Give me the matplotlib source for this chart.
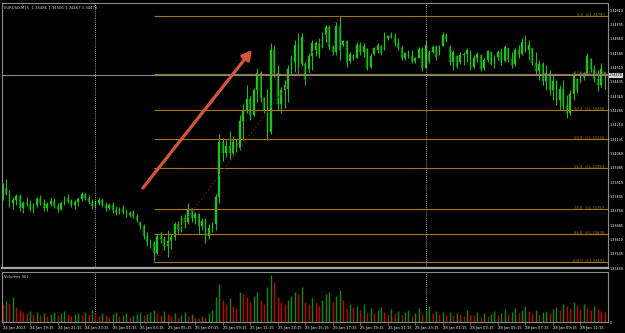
"""EURUSD M15 chart with fibonacci retracement and volumes"""
import matplotlib

matplotlib.use("Agg")
import matplotlib.pyplot as plt
import numpy as np

# Bars as points above 1.33000 (1 point = 0.00001)
opens = [842, 880, 850, 800, 815, 835, 775, 800, 795, 770, 790, 820, 800, 775, 795, 810, 785, 770, 800, 825,
         810, 790, 805, 820, 845, 825, 805, 785, 800, 815, 790, 775, 790, 765, 750, 770, 755, 735, 750, 730,
         700, 680, 630, 595, 590, 540, 625, 610, 575, 600, 620, 690, 660, 720, 700, 770, 720, 745, 680, 705,
         630, 670, 690, 830, 1120, 1060, 1100, 1060, 1120, 1090, 1230, 1280, 1345, 1260, 1390, 1480, 1350, 1290,
         1170, 1600, 1480, 1320, 1390, 1400, 1500, 1540, 1630, 1530, 1530, 1500, 1570, 1600, 1640, 1620, 1680,
         1720, 1620, 1590, 1730, 1630, 1650, 1545, 1575, 1560, 1630, 1590, 1605, 1515, 1580, 1600, 1625, 1600,
         1665, 1675, 1670, 1640, 1610, 1560, 1585, 1570, 1545, 1560, 1605, 1510, 1590, 1590, 1620, 1580, 1625,
         1680, 1620, 1540, 1570, 1540, 1575, 1580, 1595, 1515, 1560, 1575, 1505, 1550, 1590, 1530, 1565, 1590,
         1545, 1610, 1555, 1530, 1600, 1580, 1645, 1600, 1610, 1535, 1490, 1530, 1440, 1480, 1390, 1440, 1340,
         1400, 1310, 1270, 1370, 1450, 1440, 1480, 1475, 1555, 1500, 1450, 1420, 1486]
highs = [905, 925, 870, 830, 850, 845, 810, 830, 815, 800, 830, 840, 820, 805, 830, 825, 800, 810, 835, 845,
         820, 815, 830, 860, 855, 840, 820, 815, 830, 825, 805, 800, 805, 785, 780, 790, 770, 760, 765, 745,
         705, 690, 650, 610, 600, 640, 650, 630, 660, 640, 700, 705, 740, 745, 800, 775, 755, 750, 720, 720,
         690, 700, 850, 1160, 1140, 1130, 1180, 1150, 1135, 1260, 1320, 1420, 1360, 1405, 1510, 1490, 1355, 1400,
         1640, 1630, 1525, 1410, 1445, 1525, 1575, 1655, 1690, 1690, 1540, 1585, 1655, 1650, 1665, 1695, 1735,
         1735, 1630, 1750, 1780, 1655, 1655, 1590, 1580, 1645, 1645, 1640, 1612, 1585, 1618, 1640, 1628, 1695,
         1680, 1695, 1690, 1665, 1628, 1590, 1600, 1600, 1565, 1618, 1618, 1655, 1600, 1628, 1628, 1628, 1695,
         1690, 1628, 1602, 1576, 1590, 1590, 1612, 1602, 1576, 1590, 1576, 1560, 1602, 1590, 1576, 1602, 1612,
         1628, 1612, 1590, 1612, 1628, 1665, 1681, 1655, 1612, 1590, 1550, 1540, 1523, 1497, 1471, 1445, 1419,
         1445, 1366, 1392, 1487, 1455, 1487, 1487, 1586, 1560, 1523, 1497, 1534, 1487]
lows = [816, 840, 780, 770, 790, 760, 750, 785, 760, 750, 780, 790, 760, 760, 785, 775, 755, 765, 790, 800,
        780, 770, 785, 810, 815, 795, 770, 775, 790, 780, 760, 765, 750, 740, 745, 745, 725, 725, 720, 700,
        665, 610, 575, 565, 491, 535, 590, 555, 515, 560, 605, 640, 650, 670, 690, 700, 690, 640, 660, 590,
        610, 650, 660, 800, 1020, 1040, 1030, 1050, 1070, 1080, 1130, 1270, 1235, 1255, 1330, 1330, 1270, 1130,
        1160, 1460, 1290, 1270, 1300, 1330, 1470, 1485, 1480, 1520, 1420, 1485, 1495, 1570, 1560, 1610, 1645,
        1600, 1575, 1575, 1550, 1625, 1515, 1535, 1550, 1560, 1575, 1565, 1497, 1505, 1575, 1585, 1575, 1600,
        1655, 1665, 1625, 1600, 1550, 1550, 1560, 1535, 1535, 1560, 1490, 1505, 1535, 1585, 1550, 1575, 1625,
        1645, 1523, 1497, 1510, 1530, 1523, 1540, 1497, 1510, 1540, 1490, 1497, 1540, 1523, 1510, 1550, 1523,
        1540, 1540, 1510, 1520, 1560, 1575, 1590, 1550, 1523, 1471, 1445, 1419, 1392, 1366, 1340, 1314, 1288,
        1288, 1245, 1262, 1340, 1377, 1430, 1445, 1471, 1487, 1434, 1387, 1410, 1400]
closes = [880, 850, 800, 815, 835, 775, 800, 795, 770, 790, 820, 800, 775, 795, 810, 785, 770, 800, 825, 810,
          790, 805, 820, 845, 825, 805, 785, 800, 815, 790, 775, 790, 765, 750, 770, 755, 735, 750, 730, 710,
          680, 630, 595, 590, 540, 625, 610, 575, 600, 620, 690, 660, 720, 700, 770, 720, 745, 680, 705, 630,
          670, 690, 830, 1120, 1060, 1100, 1060, 1120, 1090, 1230, 1280, 1345, 1260, 1390, 1480, 1350, 1290, 1170,
          1600, 1480, 1320, 1390, 1420, 1500, 1560, 1630, 1510, 1670, 1450, 1570, 1640, 1640, 1580, 1680, 1720,
          1620, 1590, 1730, 1600, 1650, 1540, 1580, 1555, 1630, 1590, 1625, 1510, 1570, 1610, 1630, 1585, 1680,
          1675, 1670, 1640, 1610, 1560, 1585, 1570, 1545, 1560, 1605, 1510, 1630, 1545, 1620, 1565, 1615, 1680,
          1660, 1540, 1590, 1520, 1575, 1580, 1600, 1510, 1560, 1580, 1500, 1550, 1595, 1530, 1565, 1590, 1540,
          1615, 1555, 1525, 1600, 1575, 1645, 1600, 1630, 1535, 1490, 1530, 1440, 1480, 1390, 1440, 1340, 1400,
          1310, 1270, 1370, 1470, 1390, 1480, 1460, 1570, 1500, 1450, 1420, 1500, 1470]
volumes = [650, 760, 680, 900, 540, 430, 360, 320, 400, 290, 360, 250, 320, 220, 290, 360, 250, 320, 400, 290,
           220, 300, 320, 250, 360, 290, 430, 290, 220, 320, 250, 180, 290, 360, 220, 250, 320, 180, 220, 290,
           360, 250, 290, 360, 430, 320, 250, 400, 290, 220, 320, 180, 250, 360, 220, 290, 180, 140, 220, 180,
           320, 430, 900, 1370, 790, 650, 860, 580, 500, 1080, 1010, 900, 720, 940, 1080, 790, 650, 1260, 1690,
           1440, 900, 720, 650, 790, 940, 1080, 1010, 1260, 720, 650, 860, 700, 580, 790, 1010, 1080, 720, 940,
           1150, 790, 500, 650, 540, 580, 430, 650, 360, 500, 320, 430, 540, 360, 290, 470, 320, 400, 250, 360,
           430, 220, 320, 500, 290, 430, 580, 320, 400, 290, 360, 250, 360, 250, 320, 280, 220, 430, 290, 250,
           360, 180, 320, 220, 290, 400, 250, 320, 470, 290, 360, 500, 320, 430, 580, 400, 320, 430, 290, 360,
           400, 320, 470, 540, 430, 650, 580, 500, 720, 610, 470, 650, 540, 430, 580, 470, 400, 361]

time_tick_idx = [0, 8, 16, 24, 32, 40, 48, 56, 64, 72, 80, 88, 96, 104, 112, 120, 128, 136, 144, 152, 160, 168]
time_tick_labels = ["24 Jan 2013", "24 Jan 19:15", "24 Jan 21:15", "24 Jan 23:15", "25 Jan 01:15",
                    "25 Jan 03:15", "25 Jan 05:15", "25 Jan 07:15", "25 Jan 09:15", "25 Jan 11:15",
                    "25 Jan 13:15", "25 Jan 15:15", "25 Jan 17:15", "25 Jan 19:15", "25 Jan 21:15",
                    "25 Jan 23:15", "28 Jan 01:15", "28 Jan 03:15", "28 Jan 05:15", "28 Jan 07:15",
                    "28 Jan 09:15", "28 Jan 11:15"]
day_starts = [27, 123]
price_ticks = [1.34810, 1.34735, 1.34660, 1.34585, 1.34510, 1.34435, 1.34360, 1.34285, 1.34210, 1.34135,
               1.34060, 1.33985, 1.33910, 1.33835, 1.33760, 1.33685, 1.33610, 1.33535, 1.33460]
fib_levels = [0.0, 23.6, 38.2, 50.0, 61.8, 78.6, 88.6, 100.0]
arrow_tail = (40.8, 1.33879)
arrow_head = (72.5, 1.34602)
title = "EURUSD,M15  1.34486 1.34506 1.34467 1.34470"

BASE = 1.33
o = BASE + np.array(opens) / 1e5
h = BASE + np.array(highs) / 1e5
l = BASE + np.array(lows) / 1e5
c = BASE + np.array(closes) / 1e5
v = np.array(volumes)
x = np.arange(len(c))

FS = 2.7
FS_AX = 2.4
FONT = "DejaVu Sans"
GREY = "#8c8c8c"
WICK = "#14c814"
BEAR = "#0b5e0b"
FIB = "#a0781e"

fig = plt.figure(figsize=(6.25, 3.33), dpi=100, facecolor="black")
ax = fig.add_axes([2 / 625, 1 - 268 / 333, 606 / 625, 265 / 333], facecolor="black")
axv = fig.add_axes([2 / 625, 1 - 322 / 333, 606 / 625, 50 / 333], facecolor="black")
xlim = (-0.15, 176.0)

# candles
ax.vlines(x, l, h, color=WICK, lw=0.7)
up = c >= o
body_h = np.maximum(np.abs(c - o), 0.00002)
ax.bar(x[up], body_h[up], bottom=np.minimum(o, c)[up], width=0.5, color=WICK, edgecolor=WICK, lw=0.2)
ax.bar(x[~up], body_h[~up], bottom=np.minimum(o, c)[~up], width=0.5, color=BEAR, edgecolor=WICK, lw=0.2)

# fibonacci retracement
i_lo, i_hi = int(np.argmin(l)), int(np.argmax(h))
hi, lo = h[i_hi], l[i_lo]
for lvl in fib_levels:
    p = hi - (hi - lo) * lvl / 100
    ax.hlines(p, i_lo, xlim[1], color=FIB, lw=0.8)
    ax.text(0.994, p, f"{lvl:.1f}  @{p:.5f}", transform=ax.get_yaxis_transform(), ha="right", va="bottom",
            color=FIB, fontsize=FS, family=FONT)
ax.plot([i_lo, i_hi], [lo, hi], color="#a01010", lw=0.9, ls=(0, (1, 2)))

# bid line
ax.axhline(c[-1], color="#7b8796", lw=0.8)

# separators
for d in day_starts:
    ax.axvline(d, color="#c8c8c8", lw=0.6, ls=(0, (1, 1.5)))
    axv.axvline(d, color="#c8c8c8", lw=0.6, ls=(0, (1, 1.5)))

ax.annotate("", xy=arrow_head, xytext=arrow_tail,
            arrowprops=dict(arrowstyle="-|>,head_length=0.55,head_width=0.3", color="#d4553f", lw=2.3,
                            shrinkA=0, shrinkB=0))

ax.set_xlim(*xlim)
ax.set_ylim(1.33460, 1.34848)
ax.yaxis.tick_right()
ax.set_yticks(price_ticks)
ax.set_yticklabels([f"{t:.5f}" for t in price_ticks])
ax.tick_params(axis="y", colors="white", labelsize=FS_AX, length=1, width=0.5, pad=0.3, color=GREY)
ax.set_xticks([])
for lab in ax.get_yticklabels():
    lab.set_family(FONT)
ax.text(1.0015, c[-1], f"{c[-1]:.5f}", transform=ax.get_yaxis_transform(), ha="left", va="center",
        color="black", fontsize=FS_AX, family=FONT,
        bbox=dict(boxstyle="square,pad=0.1", fc="#d8d8d8", ec="none"))
for s in ax.spines.values():
    s.set_color(GREY)
ax.spines["bottom"].set_linewidth(1.6)
ax.spines["bottom"].set_color("#a8a8a8")

# volumes
vcol = ["#0b8a0b" if i > 0 and v[i] > v[i - 1] else "#c40000" for i in range(len(v))]
axv.vlines(x, 0, v, colors=vcol, lw=1.0)
axv.set_xlim(*xlim)
axv.set_ylim(0, 1780)
axv.yaxis.tick_right()
axv.set_yticks([0])
axv.tick_params(axis="y", colors="white", labelsize=FS_AX, length=1, width=0.5, pad=0.3, color=GREY)
axv.set_xticks(time_tick_idx)
axv.set_xticklabels(time_tick_labels, ha="left")
axv.tick_params(axis="x", colors="white", labelsize=FS, length=2, width=0.5, pad=1, color=GREY)
for lab in axv.get_xticklabels() + axv.get_yticklabels():
    lab.set_family(FONT)
axv.text(0.004, 0.93, "Volumes 361", transform=axv.transAxes, color="#d0d0d0", fontsize=FS, family=FONT,
         va="top")
for s in axv.spines.values():
    s.set_color(GREY)

fig.text(4 / 625, 1 - 8 / 333, title, color="#d0d0d0", fontsize=FS, family=FONT, va="center")

fig.savefig("out.png", dpi=100, facecolor="black")
